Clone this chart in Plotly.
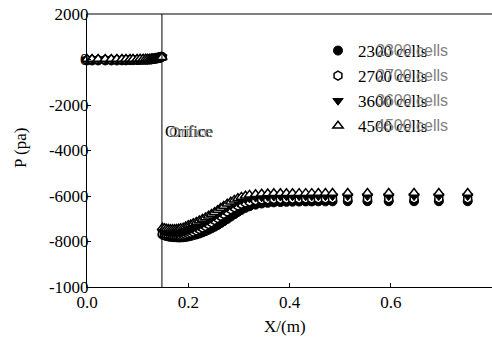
import plotly.graph_objects as go

# ---------------- data ----------------
x_upstream = [0.000, 0.010, 0.022, 0.036, 0.048, 0.059, 0.069, 0.077, 0.085, 0.091,
              0.099, 0.105, 0.111, 0.116, 0.120, 0.124, 0.127, 0.130, 0.1325, 0.135,
              0.137, 0.139, 0.1405, 0.142, 0.1435, 0.145, 0.146, 0.147, 0.148]
x_downstream = [0.149, 0.153, 0.157, 0.161, 0.165, 0.169, 0.173, 0.177, 0.181, 0.185,
                0.190, 0.195, 0.200, 0.205, 0.210, 0.216, 0.222, 0.228, 0.234, 0.240,
                0.246, 0.252, 0.258, 0.264, 0.270, 0.277, 0.284, 0.291, 0.298, 0.305,
                0.313, 0.321, 0.333, 0.345, 0.357, 0.369, 0.382, 0.394, 0.406, 0.419,
                0.432, 0.444, 0.457, 0.471, 0.485, 0.515, 0.554, 0.596, 0.646, 0.695,
                0.752]

p2300_up = [-40, -40, -40, -40, -40, -40, -35, -35, -30, -30, -25, -20, -15, -10, -5,
            0, 10, 20, 30, 40, 50, 60, 70, 80, 90, 100, 110, 110, 120]
p2700_up = [-20, -20, -20, -20, -20, -20, -15, -15, -10, -10, -5, 0, 0, 5, 10,
            15, 20, 30, 40, 45, 55, 60, 70, 75, 85, 95, 100, 105, 110]
p3600_up = [0, 0, 0, 0, 0, 0, 0, 5, 5, 10, 10, 15, 15, 20, 20,
            25, 30, 35, 40, 50, 55, 60, 65, 70, 80, 85, 90, 95, 100]
p4500_up = [20, 20, 20, 20, 20, 20, 20, 20, 25, 25, 25, 30, 30, 30, 35,
            35, 40, 45, 50, 55, 60, 65, 70, 75, 80, 85, 90, 95, 100]

p2300_down = [-7700, -7730, -7760, -7780, -7795, -7805, -7810, -7815, -7820, -7820,
              -7815, -7800, -7780, -7755, -7725, -7690, -7650, -7600, -7545, -7485,
              -7420, -7350, -7275, -7195, -7110, -7010, -6905, -6800, -6700, -6610,
              -6520, -6450, -6380, -6330, -6300, -6280, -6265, -6255, -6250, -6245,
              -6240, -6240, -6235, -6235, -6235, -6230, -6230, -6230, -6230, -6230,
              -6230]
p2700_down = [-7650, -7670, -7690, -7705, -7715, -7725, -7730, -7730, -7730, -7725,
              -7710, -7690, -7660, -7620, -7575, -7520, -7460, -7395, -7320, -7240,
              -7155, -7065, -6975, -6880, -6790, -6690, -6590, -6500, -6420, -6350,
              -6290, -6245, -6195, -6165, -6150, -6140, -6135, -6130, -6125, -6125,
              -6120, -6120, -6120, -6120, -6120, -6120, -6120, -6120, -6120, -6120,
              -6120]
p3600_down = [-7550, -7570, -7590, -7605, -7615, -7620, -7620, -7615, -7605, -7590,
              -7565, -7535, -7500, -7455, -7405, -7345, -7280, -7210, -7135, -7055,
              -6970, -6880, -6790, -6700, -6610, -6510, -6415, -6325, -6250, -6190,
              -6140, -6105, -6070, -6050, -6035, -6025, -6020, -6015, -6012, -6010,
              -6010, -6010, -6008, -6008, -6008, -6005, -6005, -6005, -6005, -6005,
              -6005]
p4500_down = [-7400, -7420, -7440, -7450, -7460, -7460, -7460, -7450, -7440, -7420,
              -7390, -7345, -7290, -7250, -7200, -7140, -7080, -7010, -6940, -6870,
              -6790, -6710, -6620, -6530, -6440, -6340, -6250, -6170, -6100, -6040,
              -5990, -5950, -5920, -5900, -5890, -5880, -5880, -5878, -5876, -5875,
              -5874, -5873, -5872, -5872, -5871, -5870, -5870, -5870, -5870, -5870,
              -5870]

series_names = ["2300 cells", "2700 cells", "3600 cells", "4500 cells"]
x_ticks = [0.0, 0.2, 0.4, 0.6, 0.8]
x_tick_labels = ["0.0", "0.2", "0.4", "0.6", "0.8"]
y_ticks = [2000, 0, -2000, -4000, -6000, -8000, -10000]
y_tick_labels = ["2000", "0", "-2000", "-4000", "-6000", "-8000", "-1000"]
orifice_x = 0.148

# ---------------- figure ----------------
W, H = 492, 337
ML, MR, MT, MB = 87, 0, 14, 50
pw, ph = W - ML - MR, H - MT - MB


def px_x(px):
    return (px - ML) / pw


def px_y(py):
    return (H - MB - py) / ph


x_all = x_upstream + x_downstream
series_values = [p2300_up + p2300_down, p2700_up + p2700_down,
                 p3600_up + p3600_down, p4500_up + p4500_down]
marker_styles = [
    dict(symbol="circle", size=9, color="black", line=dict(color="black", width=1)),
    dict(symbol="hexagon", size=9, color="white", line=dict(color="black", width=1.5)),
    dict(symbol="triangle-down", size=9, color="black", line=dict(color="black", width=1)),
    dict(symbol="triangle-up", size=9, color="white", line=dict(color="black", width=1.5)),
]

SERIF = "Liberation Serif, Times New Roman, serif"
SANS = "Liberation Sans, Arial, sans-serif"

fig = go.Figure()
for name, vals, mk in zip(series_names, series_values, marker_styles):
    fig.add_trace(go.Scatter(x=x_all, y=vals, mode="markers", name=name,
                             marker=mk, cliponaxis=False))

fig.add_shape(type="line", xref="x", yref="paper", x0=orifice_x, x1=orifice_x,
              y0=0, y1=1, line=dict(color="black", width=1))
fig.add_shape(type="line", xref="paper", yref="paper", x0=0, x1=1, y0=1, y1=1,
              line=dict(color="black", width=1))

# overlapping "Orifice" labels (serif black + sans grey)
fig.add_annotation(x=px_x(163), y=px_y(131), xref="paper", yref="paper", text="Orifice",
                   showarrow=False, xanchor="left", yanchor="middle",
                   font=dict(family=SERIF, size=17, color="black"))
fig.add_annotation(x=px_x(167), y=px_y(131), xref="paper", yref="paper", text="Orifice",
                   showarrow=False, xanchor="left", yanchor="middle",
                   font=dict(family=SANS, size=15, color="#808080"))

# grey overlay legend labels
for i, name in enumerate(series_names):
    fig.add_annotation(x=px_x(374), y=px_y(51 + 24.7 * i), xref="paper", yref="paper",
                       text=name, showarrow=False, xanchor="left", yanchor="middle",
                       font=dict(family=SANS, size=16, color="#808080"))

# axis titles
fig.add_annotation(x=px_x(285), y=px_y(326), xref="paper", yref="paper",
                   text="X/(m)", showarrow=False, xanchor="center", yanchor="middle",
                   font=dict(family=SERIF, size=17, color="black"))
fig.add_annotation(x=px_x(20), y=px_y(148), xref="paper", yref="paper",
                   text="P (pa)", showarrow=False, textangle=-90,
                   xanchor="center", yanchor="middle",
                   font=dict(family=SERIF, size=17, color="black"))

fig.update_layout(
    width=W, height=H,
    margin=dict(l=ML, r=MR, t=MT, b=MB, autoexpand=False),
    paper_bgcolor="white", plot_bgcolor="white",
    font=dict(family=SERIF, size=17, color="black"),
    showlegend=True,
    legend=dict(x=px_x(318), y=px_y(33), xanchor="left", yanchor="top",
                bgcolor="rgba(0,0,0,0)", font=dict(family=SERIF, size=17, color="black"),
                itemwidth=30, tracegroupgap=0),
    xaxis=dict(range=[0, 0.8], tickvals=x_ticks, ticktext=x_tick_labels,
               ticks="inside", ticklen=4, tickcolor="black",
               showline=True, linecolor="black", linewidth=1,
               showgrid=False, zeroline=False, automargin=False),
    yaxis=dict(range=[-10000, 2000], tickvals=y_ticks, ticktext=y_tick_labels,
               ticks="inside", ticklen=4, tickcolor="black",
               showline=True, linecolor="black", linewidth=1,
               showgrid=False, zeroline=False, automargin=False,
               ticklabelstandoff=-6),
)

fig.write_html("out.html", config={"displayModeBar": False},
               post_script="document.body.style.margin='0';document.body.style.overflow='hidden';")
